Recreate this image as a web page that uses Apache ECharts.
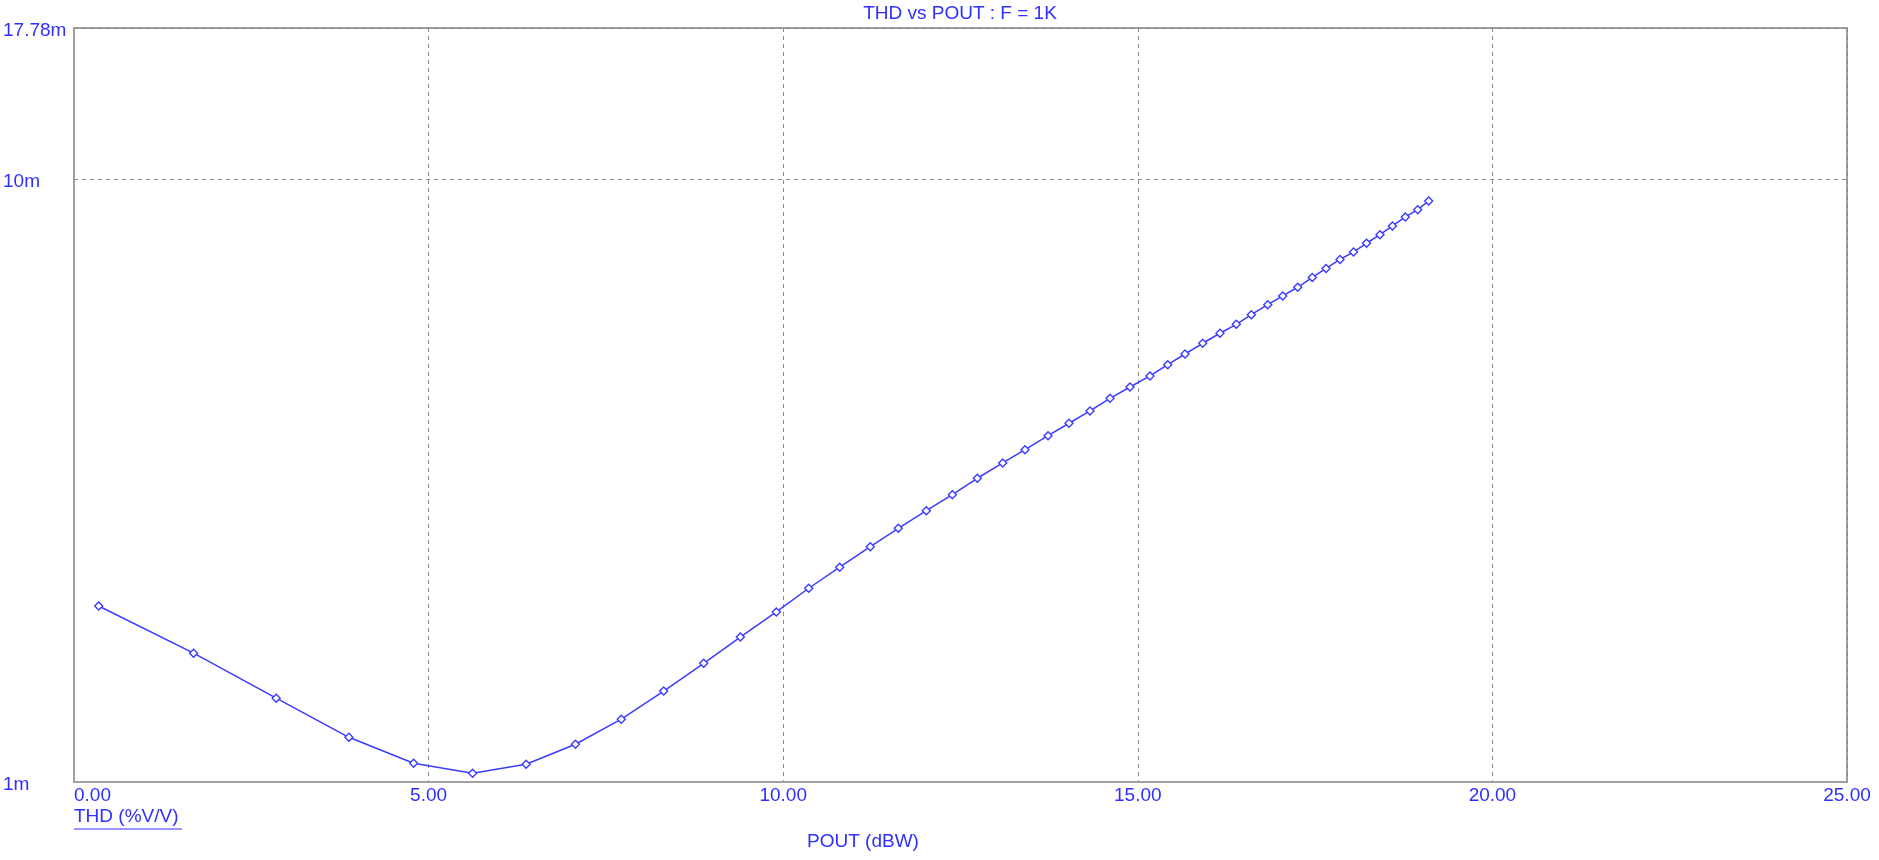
<!DOCTYPE html>
<html>
<head>
<meta charset="utf-8">
<script src="https://cdn.jsdelivr.net/npm/echarts@6/dist/echarts.min.js"></script>
<style>
html,body{margin:0;padding:0;background:#fff;}
#c{width:1879px;height:860px;}
</style>
</head>
<body>
<div id="c"></div>
<script>
// POUT (dBW)
var pout = [0.348, 1.686, 2.851, 3.876, 4.789, 5.620, 6.375, 7.071, 7.717, 8.315,
  8.879, 9.395, 9.903, 10.360, 10.797, 11.228, 11.623, 12.018, 12.385, 12.737,
  13.095, 13.410, 13.734, 14.030, 14.326, 14.608, 14.890, 15.172, 15.422, 15.666,
  15.915, 16.159, 16.389, 16.601, 16.832, 17.043, 17.255, 17.461, 17.654, 17.851,
  18.042, 18.225, 18.415, 18.591, 18.772, 18.947, 19.102];
// THD (%V/V), in milli units
var thd = [1.958, 1.635, 1.377, 1.186, 1.074, 1.034, 1.070, 1.155, 1.271, 1.415,
  1.573, 1.739, 1.914, 2.095, 2.270, 2.455, 2.634, 2.817, 2.994, 3.188,
  3.380, 3.556, 3.751, 3.933, 4.122, 4.326, 4.517, 4.711, 4.918, 5.123,
  5.337, 5.545, 5.738, 5.953, 6.184, 6.393, 6.609, 6.861, 7.101, 7.349,
  7.562, 7.818, 8.079, 8.351, 8.643, 8.887, 9.188];
var xMin = 0, xMax = 25, xStep = 5;
var yMin = 1, yMax = 17.78;
var titleText = 'THD vs POUT : F = 1K';
var xName = 'POUT (dBW)';
var yName = 'THD (%V/V)';

var blue = '#2f2fff';
var lineBlue = '#3c3cff';
var gridGray = '#8a8a8a';
var frameGray = '#a0a0a0';
var FONT = '"Liberation Sans", Arial, sans-serif';

var data = pout.map(function (x, i) { return [x, thd[i]]; });

var chart = echarts.init(document.getElementById('c'), null, {renderer: 'canvas'});
chart.setOption({
  animation: false,
  backgroundColor: '#ffffff',
  grid: {left: 74, right: 32, top: 28, bottom: 78, show: true,
    borderColor: frameGray, borderWidth: 2, backgroundColor: 'transparent', containLabel: false},
  xAxis: {
    type: 'value', min: xMin, max: xMax, interval: xStep,
    axisLine: {show: true, lineStyle: {color: frameGray, width: 2}},
    axisTick: {show: false},
    splitLine: {show: true, lineStyle: {color: gridGray, type: [4, 4], width: 1}},
    axisLabel: {color: blue, fontFamily: FONT, fontSize: 19, margin: 4,
      alignMinLabel: 'left',
      formatter: function (v) { return v.toFixed(2); }}
  },
  yAxis: {
    type: 'log', logBase: 10, min: yMin, max: yMax,
    axisLine: {show: true, lineStyle: {color: frameGray, width: 2}},
    axisTick: {show: false},
    splitLine: {show: true, lineStyle: {color: gridGray, type: [4, 4], width: 1}},
    axisLabel: {color: blue, fontFamily: FONT, fontSize: 19, margin: 71, align: 'left',
      verticalAlign: 'top', lineHeight: 6,
      formatter: function (v) {
        var r = Math.round(v);
        var s = Math.abs(v - r) < 1e-6 ? String(r) : v.toFixed(2);
        return s + 'm';
      }}
  },
  graphic: [
    {type: 'text', x: 960, y: 14, style: {text: titleText, fill: blue, font: '19px ' + FONT, align: 'center', verticalAlign: 'middle'}},
    {type: 'text', x: 863, y: 842, style: {text: xName, fill: blue, font: '19px ' + FONT, align: 'center', verticalAlign: 'middle'}},
    {type: 'text', x: 74, y: 817, style: {text: yName, fill: blue, font: '19px ' + FONT, align: 'left', verticalAlign: 'middle'}},
    {type: 'line', shape: {x1: 74, y1: 829, x2: 182, y2: 829}, style: {stroke: blue, lineWidth: 1}}
  ],
  series: [{
    type: 'line', data: data,
    symbol: 'diamond', symbolSize: 8, showAllSymbol: true,
    lineStyle: {color: lineBlue, width: 1.5},
    itemStyle: {color: '#ffffff', borderColor: lineBlue, borderWidth: 1.4},
    emphasis: {disabled: true}
  }]
});
</script>
</body>
</html>
